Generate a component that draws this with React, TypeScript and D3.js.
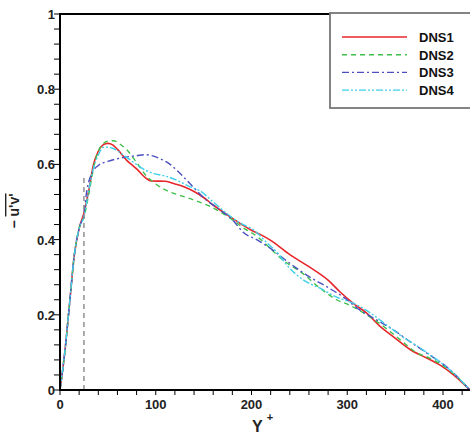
import React from "react";
import * as d3 from "d3";

const W = 470;
const H = 434;

const dns1X = [0, 5, 10, 15, 20, 25, 30, 35, 40, 45, 50, 55, 60, 70, 80, 90, 95, 110, 120, 130, 140, 150, 160, 175, 190, 200, 212, 220, 240, 260, 280, 292, 306, 320, 334, 348, 366, 383, 397, 411, 428];
const dns1Y = [0, 0.1, 0.23, 0.36, 0.43, 0.47, 0.53, 0.6, 0.635, 0.652, 0.656, 0.652, 0.64, 0.61, 0.588, 0.563, 0.556, 0.555, 0.548, 0.54, 0.528, 0.512, 0.492, 0.465, 0.44, 0.425, 0.41, 0.398, 0.36, 0.328, 0.292, 0.262, 0.231, 0.205, 0.17, 0.142, 0.107, 0.085, 0.066, 0.04, 0];

const dns2X = [0, 5, 10, 15, 20, 25, 30, 35, 40, 45, 50, 56, 62, 70, 80, 90, 100, 110, 125, 140, 157, 177, 191, 206, 219, 233, 251, 272, 289, 303, 317, 331, 345, 358, 372, 386, 404, 418, 428];
const dns2Y = [0, 0.1, 0.23, 0.36, 0.43, 0.46, 0.52, 0.59, 0.635, 0.655, 0.662, 0.663, 0.655, 0.638, 0.605, 0.57, 0.548, 0.532, 0.518, 0.505, 0.488, 0.458, 0.432, 0.408, 0.378, 0.345, 0.315, 0.27, 0.24, 0.225, 0.205, 0.182, 0.155, 0.128, 0.1, 0.085, 0.058, 0.027, 0];

const dns3X = [0, 5, 10, 15, 20, 25, 28, 33, 40, 50, 60, 70, 80, 89, 100, 110, 115, 125, 139, 153, 167, 181, 191, 206, 219, 240, 261, 279, 296, 313, 331, 348, 366, 386, 404, 428];
const dns3Y = [0, 0.1, 0.23, 0.36, 0.43, 0.47, 0.53, 0.575, 0.597, 0.608, 0.615, 0.62, 0.623, 0.626, 0.62, 0.608, 0.6, 0.577, 0.54, 0.505, 0.479, 0.45, 0.42, 0.399, 0.378, 0.337, 0.3, 0.274, 0.247, 0.213, 0.186, 0.16, 0.128, 0.093, 0.061, 0];

const dns4X = [0, 5, 10, 15, 20, 25, 30, 35, 40, 46, 55, 65, 77, 89, 99, 110, 122, 136, 146, 160, 174, 188, 202, 216, 228, 237, 254, 272, 289, 306, 324, 341, 358, 376, 394, 411, 428];
const dns4Y = [0, 0.1, 0.23, 0.36, 0.43, 0.46, 0.53, 0.59, 0.625, 0.646, 0.643, 0.627, 0.605, 0.585, 0.575, 0.569, 0.558, 0.54, 0.53, 0.5, 0.47, 0.444, 0.426, 0.392, 0.362, 0.332, 0.293, 0.27, 0.247, 0.231, 0.205, 0.173, 0.141, 0.112, 0.08, 0.045, 0];

const seriesNames = ["DNS1", "DNS2", "DNS3", "DNS4"];
const seriesColors = ["#e8262a", "#3fbf4a", "#4a50c0", "#3fd0ea"];
const seriesDash = ["", "5,4", "7,3,2,3", "7,2,2,2,2,2"];
const seriesWidth = [1.6, 1.4, 1.4, 1.4];

const xMajorTicks = [0, 100, 200, 300, 400];
const yMajorTicks = [0, 0.2, 0.4, 0.6, 0.8, 1];
const refLineX = 25;
const refLineTop = 0.57;

export default function App() {
  const x0 = 60, x1 = 470, yB = 390, yT = 14;
  const xScale = d3.scaleLinear().domain([0, 428]).range([x0, x0 + 428 * (383 / 400)]);
  const yScale = d3.scaleLinear().domain([0, 1]).range([yB, yT]);

  const xs = [dns1X, dns2X, dns3X, dns4X];
  const ys = [dns1Y, dns2Y, dns3Y, dns4Y];
  const line = d3
    .line<[number, number]>()
    .x((d) => xScale(d[0]))
    .y((d) => yScale(d[1]))
    .curve(d3.curveMonotoneX);

  const xMinor = d3.range(0, 429, 20);
  const yMinor = d3.range(0, 1.0001, 0.04);
  const font = "'Liberation Sans', Arial, sans-serif";

  return (
    <svg width={W} height={H} style={{ position: "absolute", left: 0, top: 0 }} fontFamily={font}>
      <rect x={0} y={0} width={W} height={H} fill="#fff" />
      {/* curves */}
      {xs.map((xArr, i) => (
        <path
          key={i}
          d={line(xArr.map((v, j) => [v, ys[i][j]] as [number, number])) || ""}
          fill="none"
          stroke={seriesColors[i]}
          strokeWidth={seriesWidth[i]}
          strokeDasharray={seriesDash[i]}
        />
      ))}
      {/* reference dashed line */}
      <line
        x1={xScale(refLineX)}
        x2={xScale(refLineX)}
        y1={yScale(0)}
        y2={yScale(refLineTop)}
        stroke="#888"
        strokeWidth={1.4}
        strokeDasharray="5,4"
      />
      {/* axes */}
      <line x1={x0} x2={x0} y1={yT - 1} y2={yB + 1} stroke="#000" strokeWidth={2} />
      <line x1={x0 - 1} x2={x1} y1={yB} y2={yB} stroke="#000" strokeWidth={2} />
      <line x1={x0 - 1} x2={x1} y1={yT} y2={yT} stroke="#000" strokeWidth={2} />
      {xMinor.map((v) => (
        <line key={"xm" + v} x1={xScale(v)} x2={xScale(v)} y1={yB} y2={yB + 5} stroke="#000" strokeWidth={1} />
      ))}
      {yMinor.map((v) => (
        <line key={"ym" + v} x1={x0 - 6} x2={x0} y1={yScale(v)} y2={yScale(v)} stroke="#000" strokeWidth={1} />
      ))}
      {xMajorTicks.map((v) => (
        <text key={"xl" + v} x={xScale(v)} y={409} textAnchor="middle" fontSize={13} fontWeight="bold" fill="#222">
          {v}
        </text>
      ))}
      {yMajorTicks.map((v) => (
        <text key={"yl" + v} x={55} y={yScale(v) + 5} textAnchor="end" fontSize={13} fontWeight="bold" fill="#222">
          {v === 0 ? "0" : v === 1 ? "1" : v.toFixed(1)}
        </text>
      ))}
      {/* axis titles */}
      <text x={252} y={432} fontSize={16} fontWeight="bold" fill="#222">
        Y
        <tspan dx={4} dy={-11} fontSize={11}>+</tspan>
      </text>
      <g transform="translate(19,211) rotate(-90)">
        <text x={0} y={0} textAnchor="middle" fontSize={14} fontWeight="bold" fill="#222">
          <tspan>− </tspan>
          <tspan textDecoration="overline" style={{ textDecoration: "overline" }}>u'v'</tspan>
        </text>
      </g>
      {/* legend */}
      <rect x={330} y={13} width={145} height={95} fill="#fff" stroke="#777" strokeWidth={1.8} />
      {seriesNames.map((n, i) => {
        const yy = 37 + i * 17.7;
        return (
          <g key={n}>
            <line x1={342} x2={407} y1={yy} y2={yy} stroke={seriesColors[i]} strokeWidth={seriesWidth[i]} strokeDasharray={seriesDash[i]} />
            <text x={419} y={yy + 5} fontSize={13} fontWeight="bold" fill="#111">
              {n}
            </text>
          </g>
        );
      })}
    </svg>
  );
}
